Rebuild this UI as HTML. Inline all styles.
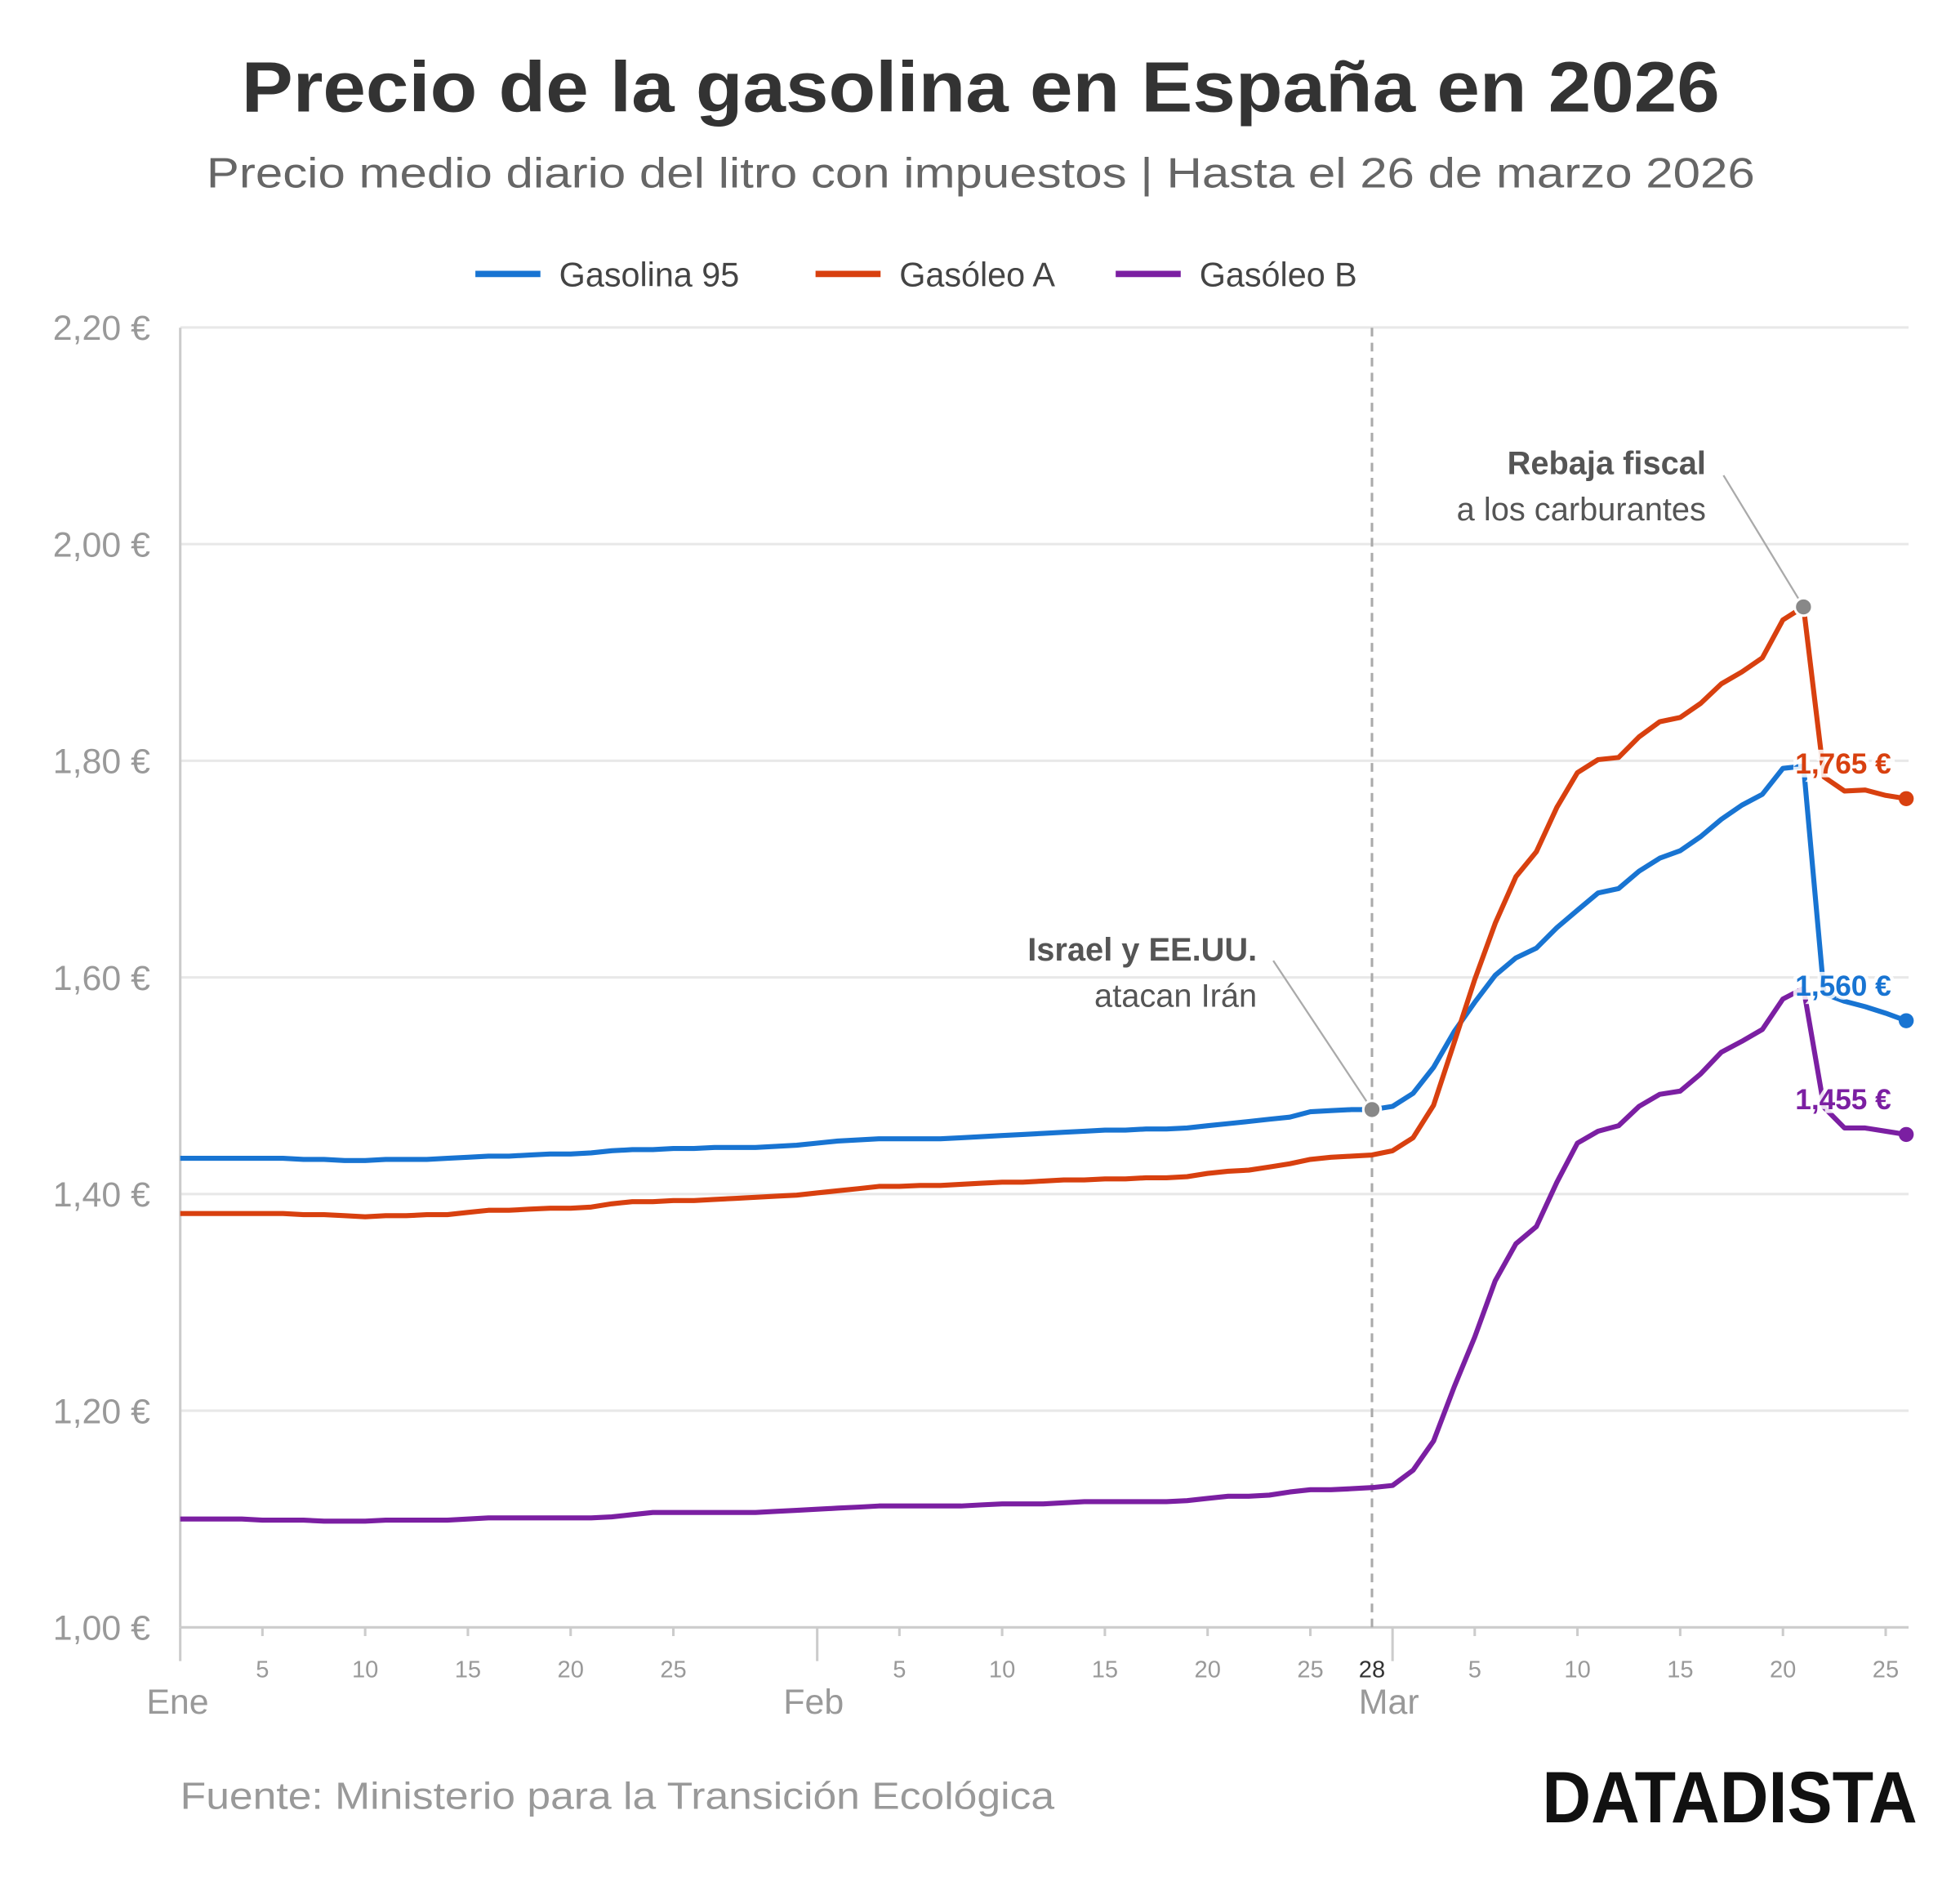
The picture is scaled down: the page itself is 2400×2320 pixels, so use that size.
<!DOCTYPE html>
<html><head><meta charset="utf-8"><style>
html,body{margin:0;padding:0;background:#fff}
svg{display:block;font-family:"Liberation Sans",sans-serif}
</style></head><body>
<svg id="chart" width="2400" height="2320" viewBox="0 0 1567 1515" xmlns="http://www.w3.org/2000/svg">
<text x="784" y="89" text-anchor="middle" font-size="57" font-weight="bold" fill="#333" textLength="1182" lengthAdjust="spacingAndGlyphs">Precio de la gasolina en España en 2026</text>
<text x="784" y="150" text-anchor="middle" font-size="34" fill="#666" textLength="1238" lengthAdjust="spacingAndGlyphs">Precio medio diario del litro con impuestos | Hasta el 26 de marzo 2026</text>
<g font-size="27" fill="#444">
<g><line x1="380" y1="219" x2="432" y2="219" stroke="#1874d2" stroke-width="5"/><text x="447" y="229">Gasolina 95</text></g>
<g><line x1="652" y1="219" x2="704" y2="219" stroke="#d8400f" stroke-width="5"/><text x="719" y="229">Gasóleo A</text></g>
<g><line x1="892" y1="219" x2="944" y2="219" stroke="#7b1fa2" stroke-width="5"/><text x="959" y="229">Gasóleo B</text></g>
</g>
<g id="grid"></g>
<g id="yaxis"></g>
<g id="xaxis"></g>
<g id="series"></g>
<g id="annot"></g>
<text x="144" y="1446" font-size="30" fill="#999" textLength="699" lengthAdjust="spacingAndGlyphs">Fuente: Ministerio para la Transición Ecológica</text>
<text x="1533" y="1457" text-anchor="end" font-size="58" font-weight="bold" fill="#111" textLength="300" lengthAdjust="spacingAndGlyphs">DATADISTA</text>
</svg>
<script>
const yTicks = [1.0, 1.2, 1.4, 1.6, 1.8, 2.0, 2.2];
const yTickLabels = ["1,00 €","1,20 €","1,40 €","1,60 €","1,80 €","2,00 €","2,20 €"];
const monthNames = ["Ene","Feb","Mar"];
const monthStart = [0, 31, 59];
const dayTicks = [5,10,15,20,25];
const gas95 = [1.433,1.433,1.433,1.433,1.433,1.433,1.432,1.432,1.431,1.431,1.432,1.432,1.432,1.433,1.434,1.435,1.435,1.436,1.437,1.437,1.438,1.440,1.441,1.441,1.442,1.442,1.443,1.443,1.443,1.444,1.445,
1.447,1.449,1.450,1.451,1.451,1.451,1.451,1.452,1.453,1.454,1.455,1.456,1.457,1.458,1.459,1.459,1.460,1.460,1.461,1.463,1.465,1.467,1.469,1.471,1.476,1.477,1.478,1.478,
1.481,1.493,1.517,1.550,1.577,1.602,1.618,1.627,1.646,1.662,1.678,1.682,1.698,1.710,1.717,1.730,1.746,1.759,1.769,1.793,1.795,1.585,1.578,1.573,1.567,1.560];
const gasoleoA = [1.382,1.382,1.382,1.382,1.382,1.382,1.381,1.381,1.380,1.379,1.380,1.380,1.381,1.381,1.383,1.385,1.385,1.386,1.387,1.387,1.388,1.391,1.393,1.393,1.394,1.394,1.395,1.396,1.397,1.398,1.399,
1.401,1.403,1.405,1.407,1.407,1.408,1.408,1.409,1.410,1.411,1.411,1.412,1.413,1.413,1.414,1.414,1.415,1.415,1.416,1.419,1.421,1.422,1.425,1.428,1.432,1.434,1.435,1.436,
1.440,1.452,1.482,1.540,1.598,1.650,1.693,1.716,1.757,1.789,1.801,1.803,1.822,1.836,1.840,1.853,1.871,1.882,1.895,1.930,1.942,1.785,1.772,1.773,1.768,1.765];
const gasoleoB = [1.100,1.100,1.100,1.100,1.099,1.099,1.099,1.098,1.098,1.098,1.099,1.099,1.099,1.099,1.100,1.101,1.101,1.101,1.101,1.101,1.101,1.102,1.104,1.106,1.106,1.106,1.106,1.106,1.106,1.107,1.108,
1.109,1.110,1.111,1.112,1.112,1.112,1.112,1.112,1.113,1.114,1.114,1.114,1.115,1.116,1.116,1.116,1.116,1.116,1.117,1.119,1.121,1.121,1.122,1.125,1.127,1.127,1.128,1.129,
1.131,1.145,1.172,1.222,1.268,1.320,1.354,1.370,1.411,1.447,1.458,1.463,1.481,1.492,1.495,1.511,1.531,1.541,1.552,1.580,1.590,1.480,1.461,1.461,1.458,1.455];
const lastLabels = ["1,560 €","1,765 €","1,455 €"];

const NS="http://www.w3.org/2000/svg";
const X0=144, DX=16.43, Y0=1301, YS=866;
const x = d => X0 + d*DX;
const y = v => Y0 - (v-1.0)*YS;
function mk(tag, attrs, parent, txt){const e=document.createElementNS(NS,tag);for(const k in attrs)e.setAttribute(k,attrs[k]);if(txt!==undefined)e.textContent=txt;parent.appendChild(e);return e;}
const grid=document.getElementById('grid'), yax=document.getElementById('yaxis'), xax=document.getElementById('xaxis'), ser=document.getElementById('series'), ann=document.getElementById('annot');
const lastDay = gas95.length-1;
yTicks.forEach((v,i)=>{
  if(i>0){const g=mk('line',{x1:X0,x2:1526,y1:y(v),y2:y(v),stroke:'#e8e8e8','stroke-width':2},grid);
  
  }
  const t=mk('text',{x:120,y:y(v)+10,'text-anchor':'end','font-size':28,fill:'#999'},yax,yTickLabels[i]);
  
  
});
mk('line',{x1:X0,x2:X0,y1:262,y2:Y0,stroke:'#ccc','stroke-width':2},yax);
mk('line',{x1:X0,x2:1526,y1:Y0,y2:Y0,stroke:'#ccc','stroke-width':2},xax);
monthNames.forEach((m,i)=>{
  const mx=x(monthStart[i]);
  mk('line',{x1:mx,x2:mx,y1:Y0,y2:Y0+27,stroke:'#ccc','stroke-width':2},xax);
  const t=mk('text',{x:mx-27,y:1370,'font-size':28,fill:'#999'},xax,m);
  
  
  dayTicks.forEach(dd=>{
    const d=monthStart[i]+dd-1; if(d>lastDay) return;
    mk('line',{x1:x(d),x2:x(d),y1:Y0,y2:Y0+7,stroke:'#ccc','stroke-width':2},xax);
    const tl=mk('text',{x:x(d),y:1341,'text-anchor':'middle','font-size':19,fill:'#999'},xax,String(dd));
    
    
  });
});
const d28=monthStart[1]+27;
mk('line',{x1:x(d28),x2:x(d28),y1:262,y2:Y0,stroke:'#aaa','stroke-width':2,'stroke-dasharray':'7,5'},xax);
mk('text',{x:x(d28),y:1341,'text-anchor':'middle','font-size':19,fill:'#333'},xax,'28');
const series=[[gas95,'#1874d2','gasolina-95-line'],[gasoleoA,'#d8400f','gasoleo-a-line'],[gasoleoB,'#7b1fa2','gasoleo-b-line']];
series.forEach(([arr,c,n],si)=>{
  const p=mk('path',{d:arr.map((v,i)=>(i?'L':'M')+x(i).toFixed(1)+','+y(v).toFixed(1)).join(''),fill:'none',stroke:c,'stroke-width':4,'stroke-linejoin':'round'},ser);
  
  
});
series.forEach(([arr,c,n],si)=>{
  const ld=arr.length-1;
  const dot=mk('circle',{cx:x(ld),cy:y(arr[ld]),r:6,fill:c},ser);
  
  
  const lbl=mk('text',{x:x(ld)-12,y:y(arr[ld])-20,'text-anchor':'end','font-size':23,'font-weight':'bold',fill:c,stroke:'rgba(255,255,255,0.85)','stroke-width':6,'paint-order':'stroke'},ser,lastLabels[si]);
  
  
});
mk('line',{x1:1018,y1:768,x2:x(d28),y2:y(gas95[d28]),stroke:'#aaa','stroke-width':1.5},ann);
mk('circle',{cx:x(d28),cy:y(gas95[d28]),r:7,fill:'#888',stroke:'#fff','stroke-width':2},ann);
mk('text',{x:1005,y:768,'text-anchor':'end','font-size':26,'font-weight':'bold',fill:'#555'},ann,'Israel y EE.UU.');
mk('text',{x:1005,y:805,'text-anchor':'end','font-size':26,fill:'#555'},ann,'atacan Irán');
const dR=monthStart[2]+20;
mk('line',{x1:1378,y1:380,x2:x(dR),y2:y(gasoleoA[dR]),stroke:'#aaa','stroke-width':1.5},ann);
mk('circle',{cx:x(dR),cy:y(gasoleoA[dR]),r:7,fill:'#888',stroke:'#fff','stroke-width':2},ann);
mk('text',{x:1364,y:379,'text-anchor':'end','font-size':26,'font-weight':'bold',fill:'#555'},ann,'Rebaja fiscal');
mk('text',{x:1364,y:416,'text-anchor':'end','font-size':26,fill:'#555'},ann,'a los carburantes');
</script>
</body></html>
